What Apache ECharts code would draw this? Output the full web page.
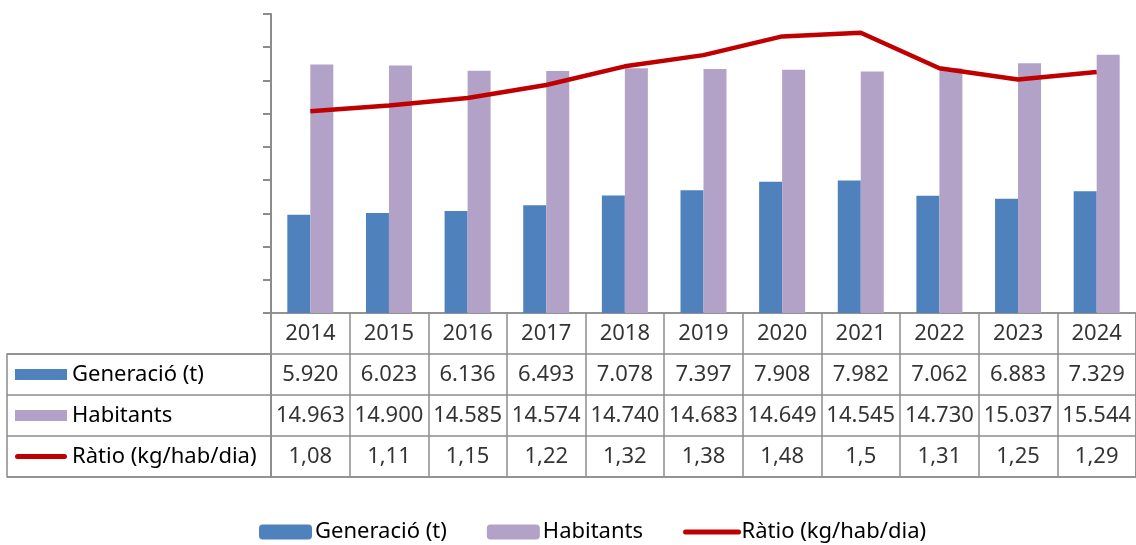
<!DOCTYPE html>
<html>
<head>
<meta charset="utf-8">
<script src="https://cdn.jsdelivr.net/npm/echarts@6/dist/echarts.min.js"></script>
<style>
  html, body { margin: 0; padding: 0; background: #fff; }
  #chart { width: 1136px; height: 545px; }
</style>
</head>
<body>
<div id="chart"></div>
<script>
var years = ["2014", "2015", "2016", "2017", "2018", "2019", "2020", "2021", "2022", "2023", "2024"];
var generacio = [5920, 6023, 6136, 6493, 7078, 7397, 7908, 7982, 7062, 6883, 7329];
var habitants = [14963, 14900, 14585, 14574, 14740, 14683, 14649, 14545, 14730, 15037, 15544];
var ratio = [1.08, 1.11, 1.15, 1.22, 1.32, 1.38, 1.48, 1.5, 1.31, 1.25, 1.29];
var rowNames = ["Generació (t)", "Habitants", "Ràtio (kg/hab/dia)"];

var colGen = "#4F81BD";
var colHab = "#B2A2C7";
var colRat = "#C00000";
var border = "#8c8c8c";
var font = "Noto Sans";
var fs = 22;

function thousands(v) {
  return String(v).replace(/\B(?=(\d{3})+(?!\d))/g, ".");
}
function decimal(v) {
  return String(v).replace(".", ",");
}

// cells of the data table: [column, row, value]
var cells = [];
years.forEach(function (y, i) {
  cells.push([i, 0, y]);
  cells.push([i, 1, generacio[i]]);
  cells.push([i, 2, habitants[i]]);
  cells.push([i, 3, ratio[i]]);
});

var chart = echarts.init(document.getElementById("chart"));
chart.setOption({
  animation: false,
  textStyle: { fontFamily: font },
  legend: {
    left: 254,
    top: 516,
    itemWidth: 53,
    itemHeight: 15,
    itemGap: 40,
    textStyle: { fontSize: fs, color: "#000", fontFamily: font, padding: [0, 0, 0, -2] },
    data: [
      "Generació (t)",
      "Habitants",
      { name: "Ràtio (kg/hab/dia)", itemStyle: { opacity: 0 }, lineStyle: { width: 5, cap: "round" } }
    ]
  },
  grid: [
    { left: 271, top: 14, width: 869, height: 299 },
    { left: 271, top: 313, width: 869, height: 164, show: true, borderColor: border, borderWidth: 1.5 },
    { left: 7, top: 354, width: 264, height: 123, show: true, borderColor: border, borderWidth: 1.5 }
  ],
  xAxis: [
    {
      gridIndex: 0,
      type: "category",
      data: years,
      axisLine: { show: false },
      axisTick: { show: false },
      axisLabel: { show: false }
    },
    {
      gridIndex: 1,
      type: "category",
      data: years,
      axisLine: { show: false },
      axisTick: { show: false },
      axisLabel: { show: false },
      splitLine: { show: true, interval: 0, lineStyle: { color: border, width: 1.5 } }
    },
    {
      gridIndex: 2,
      type: "value",
      show: false
    }
  ],
  yAxis: [
    {
      gridIndex: 0,
      type: "value",
      min: 0,
      max: 18000,
      interval: 2000,
      axisLine: { show: true, lineStyle: { color: border, width: 2 } },
      axisTick: { show: true, length: 8, lineStyle: { color: border, width: 2 } },
      axisLabel: { show: false },
      splitLine: { show: false }
    },
    {
      gridIndex: 0,
      type: "value",
      min: 0,
      max: 1.6,
      show: false,
      splitLine: { show: false }
    },
    {
      gridIndex: 1,
      type: "category",
      inverse: true,
      data: [0, 1, 2, 3],
      axisLine: { show: false },
      axisTick: { show: false },
      axisLabel: { show: false },
      splitLine: { show: true, interval: 0, lineStyle: { color: border, width: 1.5 } }
    },
    {
      gridIndex: 2,
      type: "category",
      inverse: true,
      data: rowNames,
      axisLine: { show: false },
      axisTick: { show: false },
      splitLine: { show: true, interval: 0, lineStyle: { color: border, width: 1.5 } },
      axisLabel: {
        inside: true,
        margin: 8,
        formatter: function (v, i) {
          var key = ["gen", "hab", "rat"][i];
          return "{" + key + "|}{t|" + v + "}";
        },
        rich: {
          gen: { width: 52, height: 11, backgroundColor: colGen, verticalAlign: "middle" },
          hab: { width: 52, height: 11, backgroundColor: colHab, verticalAlign: "middle" },
          rat: { width: 52, height: 5, backgroundColor: colRat, borderRadius: 2.5, verticalAlign: "middle" },
          t: { fontSize: fs, color: "#000", fontFamily: font, padding: [0, 0, 0, 5], verticalAlign: "middle" }
        }
      }
    }
  ],
  series: [
    {
      name: "Generació (t)",
      type: "bar",
      xAxisIndex: 0,
      yAxisIndex: 0,
      barWidth: 23,
      barGap: "0%",
      itemStyle: { color: colGen },
      data: generacio
    },
    {
      name: "Habitants",
      type: "bar",
      xAxisIndex: 0,
      yAxisIndex: 0,
      barWidth: 23,
      barGap: "0%",
      itemStyle: { color: colHab },
      data: habitants
    },
    {
      name: "Ràtio (kg/hab/dia)",
      type: "line",
      xAxisIndex: 0,
      yAxisIndex: 1,
      symbol: "none",
      lineStyle: { color: colRat, width: 4.5 },
      itemStyle: { color: colRat },
      data: ratio
    },
    {
      type: "scatter",
      xAxisIndex: 1,
      yAxisIndex: 2,
      symbolSize: 0,
      silent: true,
      label: {
        show: true,
        position: "inside",
        fontSize: fs,
        color: "#000",
        fontFamily: font,
        formatter: function (p) {
          var row = p.value[1];
          var v = p.value[2];
          if (row === 0) return v;
          if (row === 3) return decimal(v);
          return thousands(v);
        }
      },
      data: cells
    }
  ]
});
</script>
</body>
</html>
